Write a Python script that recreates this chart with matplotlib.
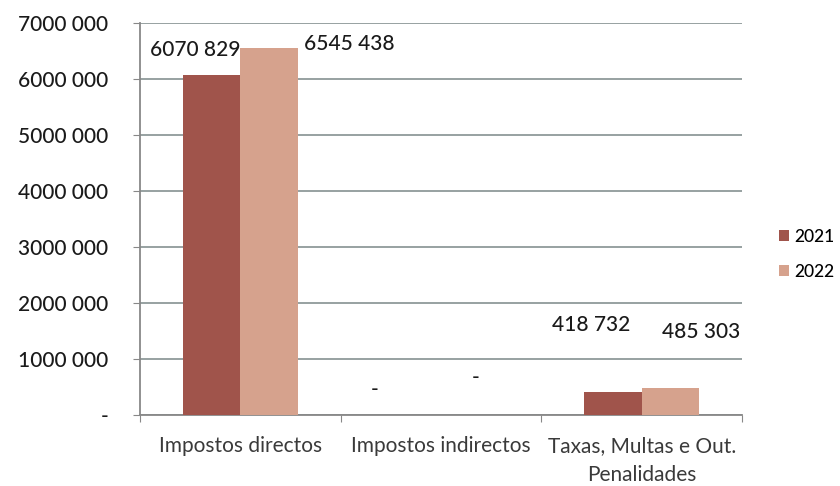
import matplotlib.pyplot as plt
import numpy as np

# data
categories = ['Impostos directos', 'Impostos indirectos', 'Taxas, Multas e Out.\nPenalidades']
years = ['2021', '2022']
values_2021 = [6070829, 0, 418732]
values_2022 = [6545438, 0, 485303]
y_ticks = [0, 1000000, 2000000, 3000000, 4000000, 5000000, 6000000, 7000000]


def fmt(v):
    """Portuguese style number: 6070 829, zero shown as '-'."""
    v = int(v)
    if v == 0:
        return '-'
    if v < 1000:
        return str(v)
    return f"{v // 1000} {v % 1000:03d}"


plt.rcParams['font.family'] = ['Lato', 'DejaVu Sans']

fig = plt.figure(figsize=(8.4, 4.86), dpi=100)
ax = fig.add_axes([140 / 840, 1 - 415 / 486, (742 - 140) / 840, (415 - 23) / 486])

x = np.arange(len(categories))
w = 0.285
c21 = '#A0544B'
c22 = '#D6A28D'
ax.bar(x - w / 2, values_2021, w, color=c21, label=years[0], zorder=3)
ax.bar(x + w / 2, values_2022, w, color=c22, label=years[1], zorder=3)

ax.set_xlim(-0.5, len(categories) - 0.5)
ax.set_ylim(0, 7000000)
ax.set_yticks(y_ticks)
ax.set_yticklabels([fmt(t) for t in y_ticks], fontsize=15, color='#1a1a1a',
                   fontweight='medium')
ax.tick_params(axis='y', length=5, color='#888888', pad=18)
ax.yaxis.grid(True, color='#8f9a9a', linewidth=1.3, zorder=0)

# category separators as x ticks, labels at centers
ax.set_xticks(np.arange(-0.5, len(categories)), minor=False)
ax.set_xticklabels([])
ax.set_xticks(x, minor=True)
ax.set_xticklabels(categories, minor=True, fontsize=15, color='#3a3a3a',
                   linespacing=1.6)
ax.tick_params(axis='x', which='major', length=5, direction='out', color='#888888')
ax.tick_params(axis='x', which='minor', length=0, pad=15)

for s in ['top', 'right']:
    ax.spines[s].set_visible(False)
for s in ['left', 'bottom']:
    ax.spines[s].set_color('#888888')
    ax.spines[s].set_linewidth(1.3)

# data labels, offset like the original
offs21 = [(-12, 18), (-27, 18), (-16, 48)]
offs22 = [(58, 3), (4, 27), (22, 40)]
for i in range(len(categories)):
    ax.annotate(fmt(values_2021[i]), (x[i] - w / 2, values_2021[i]),
                xytext=offs21[i], textcoords='offset points',
                ha='center', va='center', fontsize=15, color='#1a1a1a',
                fontweight='medium')
    ax.annotate(fmt(values_2022[i]), (x[i] + w / 2, values_2022[i]),
                xytext=offs22[i], textcoords='offset points',
                ha='center', va='center', fontsize=15, color='#1a1a1a',
                fontweight='medium')

ax.legend(loc='center left', bbox_to_anchor=(1.062, 0.41), frameon=False,
          borderaxespad=0, borderpad=0,
          handlelength=0.55, handleheight=0.55, handletextpad=0.3,
          labelspacing=1.1, prop={'size': 12.5, 'weight': 'medium'})

fig.savefig('out.png', dpi=100)
